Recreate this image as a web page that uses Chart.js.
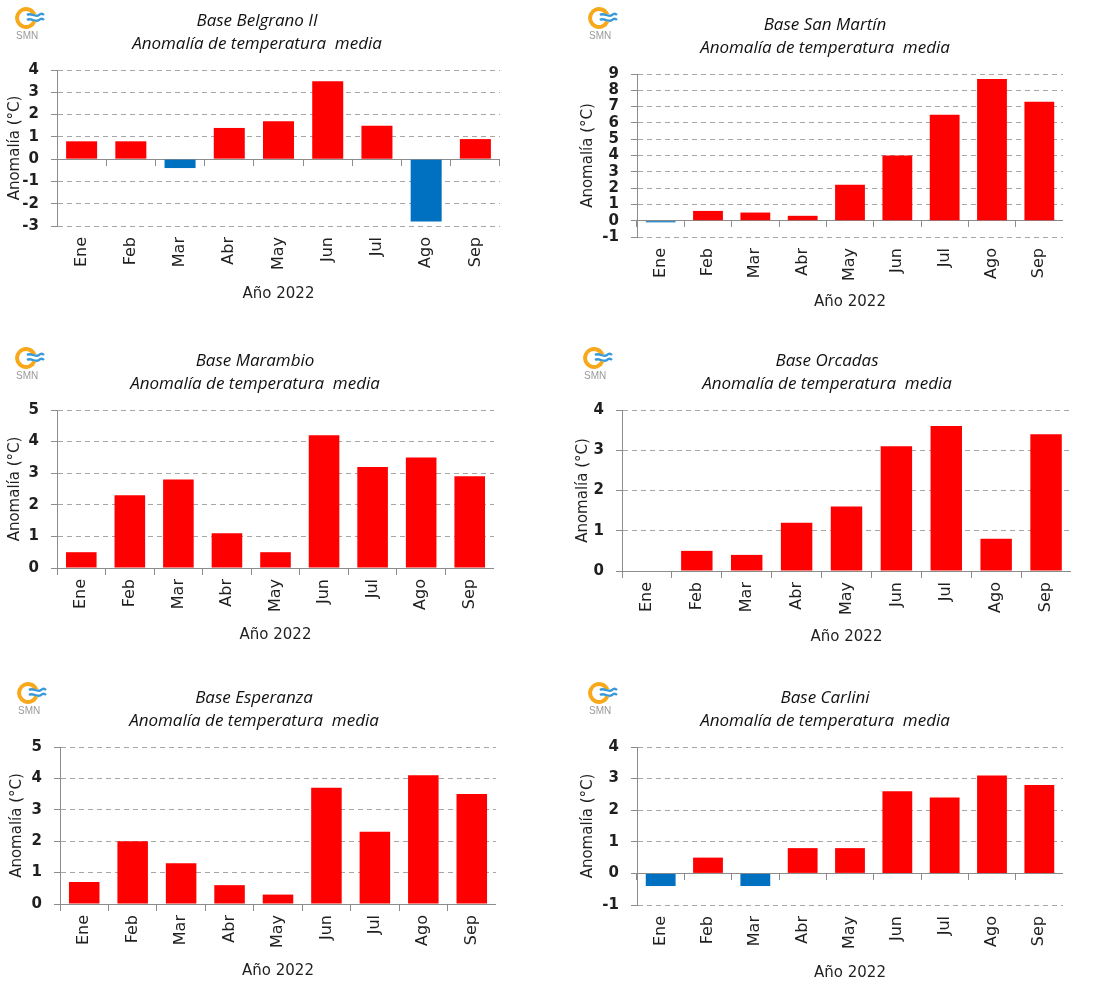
<!DOCTYPE html>
<html>
<head>
<meta charset="utf-8">
<script src="https://cdn.jsdelivr.net/npm/chart.js@4/dist/chart.umd.min.js"></script>
<style>
  body { margin: 0; background: #fff; }
  #lienzo { position: relative; width: 1099px; height: 981px; }
  .panel { position: absolute; }
</style>
</head>
<body>
<div id="lienzo"></div>
<script>
// datos (anomalía de temperatura media, °C)
var meses = ['Ene', 'Feb', 'Mar', 'Abr', 'May', 'Jun', 'Jul', 'Ago', 'Sep'];
var estaciones = ['Base Belgrano II', 'Base San Martín', 'Base Marambio', 'Base Orcadas', 'Base Esperanza', 'Base Carlini'];
var belgrano  = [0.8, 0.8, -0.4, 1.4, 1.7, 3.5, 1.5, -2.8, 0.9];
var sanMartin = [-0.1, 0.6, 0.5, 0.3, 2.2, 4.0, 6.5, 8.7, 7.3];
var marambio  = [0.5, 2.3, 2.8, 1.1, 0.5, 4.2, 3.2, 3.5, 2.9];
var orcadas   = [0.0, 0.5, 0.4, 1.2, 1.6, 3.1, 3.6, 0.8, 3.4];
var esperanza = [0.7, 2.0, 1.3, 0.6, 0.3, 3.7, 2.3, 4.1, 3.5];
var carlini   = [-0.4, 0.5, -0.4, 0.8, 0.8, 2.6, 2.4, 3.1, 2.8];
var series = [belgrano, sanMartin, marambio, orcadas, esperanza, carlini];
// mínimo y máximo del eje Y de cada gráfico
var rangos = [[-3, 4], [-1, 9], [0, 5], [0, 4], [0, 5], [-1, 4]];

// ubicación de cada panel en la página (px absolutos)
var paneles = [
  {cx: 0,   cy: 0,   L: 57,  R: 500,  T: 70,  B: 226, tc: 257, t1: 21,  yt: 15,  xt: 294},
  {cx: 560, cy: 0,   L: 637, R: 1063, T: 74,  B: 237, tc: 825, t1: 25,  yt: 588, xt: 302},
  {cx: 0,   cy: 340, L: 57,  R: 494,  T: 410, B: 568, tc: 255, t1: 361, yt: 15,  xt: 635},
  {cx: 560, cy: 340, L: 622, R: 1071, T: 410, B: 571, tc: 827, t1: 361, yt: 583, xt: 637},
  {cx: 0,   cy: 675, L: 60,  R: 496,  T: 747, B: 904, tc: 254, t1: 698, yt: 17,  xt: 971},
  {cx: 560, cy: 675, L: 637, R: 1063, T: 747, B: 905, tc: 825, t1: 698, yt: 588, xt: 973}
];

var ROJO = '#ff0000';
var AZUL = '#0070c0';
var TEXTO = '#1f1f1f';
var FUENTE = "'DejaVu Sans', sans-serif";
var TITULO_LH = 23;
var EJE_LH = 18;

// logo SMN dibujado en la esquina
var logoSMN = {
  id: 'logoSMN',
  afterDraw: function(chart, args, opts) {
    var c = chart.ctx;
    var x = opts.x, y = opts.y;
    c.save();
    c.strokeStyle = '#f7a81b';
    c.lineWidth = 4;
    c.beginPath();
    c.arc(x + 11, y + 11, 9, 0.12 * Math.PI, 1.88 * Math.PI);
    c.stroke();
    c.strokeStyle = '#3a9ad9';
    c.lineWidth = 2.4;
    for (var k = 0; k < 2; k++) {
      var yy = y + 8 + k * 5;
      c.beginPath();
      c.moveTo(x + 12, yy);
      c.bezierCurveTo(x + 16, yy - 3, x + 20, yy + 3, x + 24, yy);
      c.bezierCurveTo(x + 26, yy - 2, x + 28, yy - 1, x + 29, yy);
      c.stroke();
    }
    c.fillStyle = '#9a9a9a';
    c.font = "10px 'Liberation Sans', sans-serif";
    c.textBaseline = 'top';
    c.fillText('SMN', x + 1, y + 24);
    c.restore();
  }
};

function crearGrafico(i) {
  var p = paneles[i];
  var W = p.R - p.cx;
  var H = p.xt - p.cy + EJE_LH / 2;
  var padL = 2 * (p.tc - p.cx) - W;
  var anchoY = p.L - p.cx - padL;
  var padTit = p.t1 - p.cy - TITULO_LH / 2;
  var altoX = p.cy + H - p.B;

  var div = document.createElement('div');
  div.className = 'panel';
  div.style.left = p.cx + 'px';
  div.style.top = p.cy + 'px';
  div.style.width = W + 'px';
  div.style.height = H + 'px';
  var canvas = document.createElement('canvas');
  div.appendChild(canvas);
  document.getElementById('lienzo').appendChild(div);

  new Chart(canvas.getContext('2d'), {
    type: 'bar',
    data: {
      labels: meses,
      datasets: [{
        data: series[i],
        backgroundColor: function(ctx) { return ctx.raw < 0 ? AZUL : ROJO; },
        borderWidth: 0,
        barPercentage: 0.63,
        categoryPercentage: 1
      }]
    },
    options: {
      responsive: true,
      maintainAspectRatio: false,
      animation: false,
      layout: { padding: { left: padL, right: 0, top: 0, bottom: 0 } },
      plugins: {
        legend: { display: false },
        tooltip: { enabled: false },
        title: {
          display: true,
          text: [estaciones[i], 'Anomalía de temperatura  media'],
          color: '#111',
          font: { family: "'Open Sans', sans-serif", size: 17, style: 'italic', weight: 'normal', lineHeight: TITULO_LH / 17 },
          padding: { top: padTit, bottom: p.T - p.cy - padTit - 2 * TITULO_LH }
        },
        logoSMN: { x: p.yt - p.cx, y: 7 }
      },
      scales: {
        y: {
          min: rangos[i][0],
          max: rangos[i][1],
          afterFit: function(s) { s.width = anchoY; },
          ticks: { stepSize: 1, autoSkip: false, color: TEXTO, padding: 12, font: { family: FUENTE, size: 15, weight: 'bold' } },
          grid: {
            color: function(ctx) { return ctx.tick && ctx.tick.value === 0 ? '#8c8c8c' : '#a6a6a6'; },
            tickColor: '#8c8c8c',
            tickLength: 6
          },
          border: {
            color: '#8c8c8c',
            dash: function(ctx) { return ctx.tick && ctx.tick.value !== 0 ? [5, 4] : []; }
          },
          title: {
            display: true,
            text: 'Anomalía (°C)',
            color: TEXTO,
            font: { family: FUENTE, size: 15, lineHeight: EJE_LH / 15 },
            padding: { top: p.yt - p.cx - padL - EJE_LH / 2, bottom: 0 }
          }
        },
        // eje X sobre la línea del cero (línea y marcas)
        x: {
          position: { y: 0 },
          offset: true,
          afterFit: function(s) { s.height = 0; },
          ticks: { display: false },
          grid: { offset: true, drawOnChartArea: false, color: '#8c8c8c', tickLength: 6 },
          border: { color: '#8c8c8c' }
        },
        // eje inferior solo con las etiquetas de los meses
        x2: {
          type: 'category',
          position: 'bottom',
          offset: true,
          afterFit: function(s) { s.height = altoX; },
          grid: { display: false },
          border: { display: false },
          ticks: { color: TEXTO, autoSkip: false, minRotation: 90, maxRotation: 90, padding: 3, font: { family: FUENTE, size: 16 } },
          title: {
            display: true,
            text: 'Año 2022',
            color: TEXTO,
            font: { family: FUENTE, size: 15, lineHeight: EJE_LH / 15 },
            padding: { top: 0, bottom: 0 }
          }
        }
      }
    },
    plugins: [logoSMN]
  });
}

for (var i = 0; i < paneles.length; i++) {
  crearGrafico(i);
}
</script>
</body>
</html>
